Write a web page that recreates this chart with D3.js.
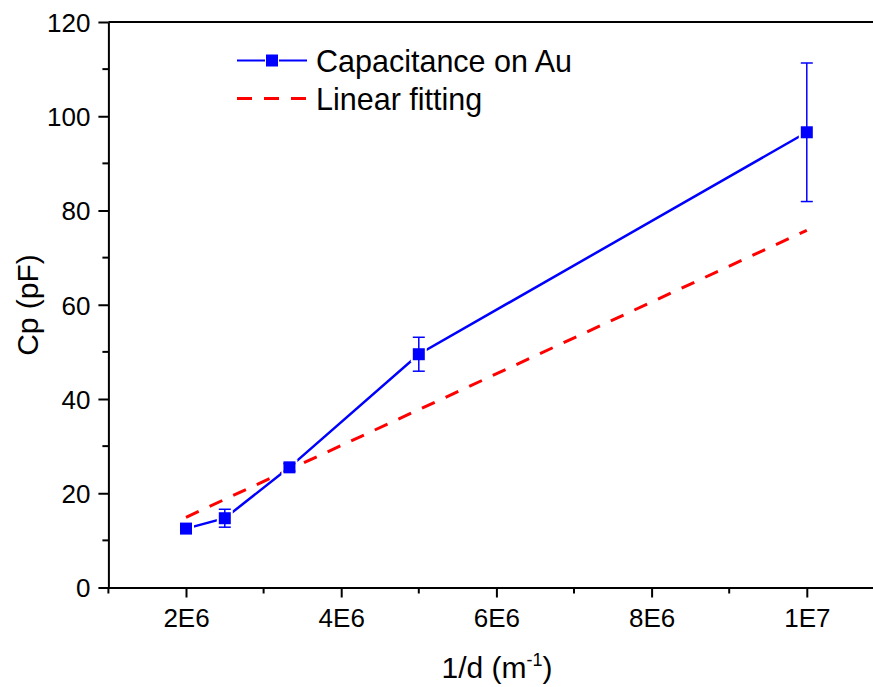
<!DOCTYPE html>
<html>
<head>
<meta charset="utf-8">
<script src="https://cdn.jsdelivr.net/npm/d3@7"></script>
<style>
  html, body { margin: 0; padding: 0; background: #fff; }
  svg { display: block; }
  text { font-family: "Liberation Sans", Arial, sans-serif; fill: #000; }
</style>
</head>
<body>
<script>
// ---- data ----
const invD = [2e6, 2.5e6, 3.333e6, 5e6, 1e7];
const capacitance = [12.5, 14.7, 25.5, 49.5, 96.6];
const capError = [0.8, 1.9, 0.8, 3.6, 14.7];
const fitX = [2e6, 1e7];
const fitY = [14.9, 75.8];
const xTickValues = [2e6, 4e6, 6e6, 8e6, 1e7];
const xTickLabels = ["2E6", "4E6", "6E6", "8E6", "1E7"];
const xMinorTicks = [1e6, 3e6, 5e6, 7e6, 9e6, 11e6];
const yTickValues = [0, 20, 40, 60, 80, 100, 120];
const yMinorTicks = [10, 30, 50, 70, 90, 110];
const legendLabels = ["Capacitance on Au", "Linear fitting"];

(function () {
const W = 873, H = 687;
const pl = 108.4, pr = 884.4, pt = 22, pb = 587.5;

const svg = d3.select("body").append("svg").attr("width", W).attr("height", H);

const x = d3.scaleLinear().domain([1e6, 11e6]).range([pl, pr]);
const y = d3.scaleLinear().domain([0, 120]).range([pb, pt]);

const blue = "#0000ff", red = "#ff0000";

// frame (top and right)
svg.append("path")
  .attr("d", `M${pl},${pt}H${pr}V${pb}`)
  .attr("fill", "none").attr("stroke", "#000").attr("stroke-width", 2);

// y axis
const yAxis = d3.axisLeft(y).tickValues(yTickValues).tickSize(10).tickSizeOuter(0).tickPadding(8).tickFormat(d3.format("d"));
const gy = svg.append("g").attr("transform", `translate(${pl},0)`).call(yAxis);
gy.select(".domain").attr("stroke-width", 2);
gy.selectAll(".tick line").attr("stroke-width", 2);
gy.selectAll(".tick text").style("font-size", "26px").attr("dy", "0.36em");
gy.selectAll(".minor").data(yMinorTicks).enter().append("line")
  .attr("class", "minor")
  .attr("x1", -6).attr("x2", 0)
  .attr("y1", d => y(d)).attr("y2", d => y(d))
  .attr("stroke", "#000").attr("stroke-width", 2);

// x axis
const xAxis = d3.axisBottom(x).tickValues(xTickValues).tickSize(10).tickSizeOuter(0).tickPadding(11)
  .tickFormat((d, i) => xTickLabels[i]);
const gx = svg.append("g").attr("transform", `translate(0,${pb})`).call(xAxis);
gx.select(".domain").attr("stroke-width", 2);
gx.selectAll(".tick line").attr("stroke-width", 2);
gx.selectAll(".tick text").style("font-size", "26px");
gx.selectAll(".minor").data(xMinorTicks).enter().append("line")
  .attr("class", "minor")
  .attr("x1", d => x(d)).attr("x2", d => x(d))
  .attr("y1", 0).attr("y2", 6)
  .attr("stroke", "#000").attr("stroke-width", 2);

// axis titles
const xt = svg.append("text").attr("x", 497).attr("y", 678).attr("text-anchor", "middle").style("font-size", "30px");
xt.append("tspan").text("1/d (m");
xt.append("tspan").attr("dy", -12).style("font-size", "18px").text("-1");
xt.append("tspan").attr("dy", 12).text(")");

svg.append("text").attr("transform", `translate(38,305) rotate(-90)`).attr("text-anchor", "middle")
  .style("font-size", "30px").text("Cp (pF)");

// linear fit
const line = d3.line().x(d => x(d[0])).y(d => y(d[1]));
svg.append("path").datum(fitX.map((v, i) => [v, fitY[i]]))
  .attr("d", line).attr("fill", "none").attr("stroke", red).attr("stroke-width", 3)
  .attr("stroke-dasharray", "14,12");

// data line
const pts = invD.map((v, i) => [v, capacitance[i], capError[i]]);
svg.append("path").datum(pts).attr("d", line)
  .attr("fill", "none").attr("stroke", blue).attr("stroke-width", 2.5);

// gap around squares
const sq = 12;
svg.selectAll(".gap").data(pts).enter().append("rect")
  .attr("x", d => x(d[0]) - sq / 2).attr("y", d => y(d[1]) - sq / 2)
  .attr("width", sq).attr("height", sq)
  .attr("fill", "#fff").attr("stroke", "#fff").attr("stroke-width", 4);

// error bars
const eb = svg.append("g").attr("stroke", blue).attr("stroke-width", 1.5);
pts.forEach(d => {
  const cx = x(d[0]), y1 = y(d[1] + d[2]), y2 = y(d[1] - d[2]);
  eb.append("line").attr("x1", cx).attr("x2", cx).attr("y1", y1).attr("y2", y2);
  eb.append("line").attr("x1", cx - 6).attr("x2", cx + 6).attr("y1", y1).attr("y2", y1);
  eb.append("line").attr("x1", cx - 6).attr("x2", cx + 6).attr("y1", y2).attr("y2", y2);
});

// squares
svg.selectAll(".pt").data(pts).enter().append("rect")
  .attr("x", d => x(d[0]) - sq / 2).attr("y", d => y(d[1]) - sq / 2)
  .attr("width", sq).attr("height", sq).attr("fill", blue);

// legend
const lg = svg.append("g");
lg.append("line").attr("x1", 237).attr("x2", 307).attr("y1", 60.5).attr("y2", 60.5)
  .attr("stroke", blue).attr("stroke-width", 2);
lg.append("rect").attr("x", 272 - 7).attr("y", 60.5 - 7).attr("width", 14).attr("height", 14)
  .attr("fill", "#fff");
lg.append("rect").attr("x", 272 - sq / 2).attr("y", 60.5 - sq / 2).attr("width", sq).attr("height", sq)
  .attr("fill", blue);
lg.append("line").attr("x1", 237).attr("x2", 307).attr("y1", 98.5).attr("y2", 98.5)
  .attr("stroke", red).attr("stroke-width", 3).attr("stroke-dasharray", "15,12");
lg.selectAll("text").data(legendLabels).enter().append("text")
  .attr("x", 316).attr("y", (d, i) => 71.5 + i * 38)
  .style("font-size", "30.5px").text(d => d);
})();
</script>
</body>
</html>
